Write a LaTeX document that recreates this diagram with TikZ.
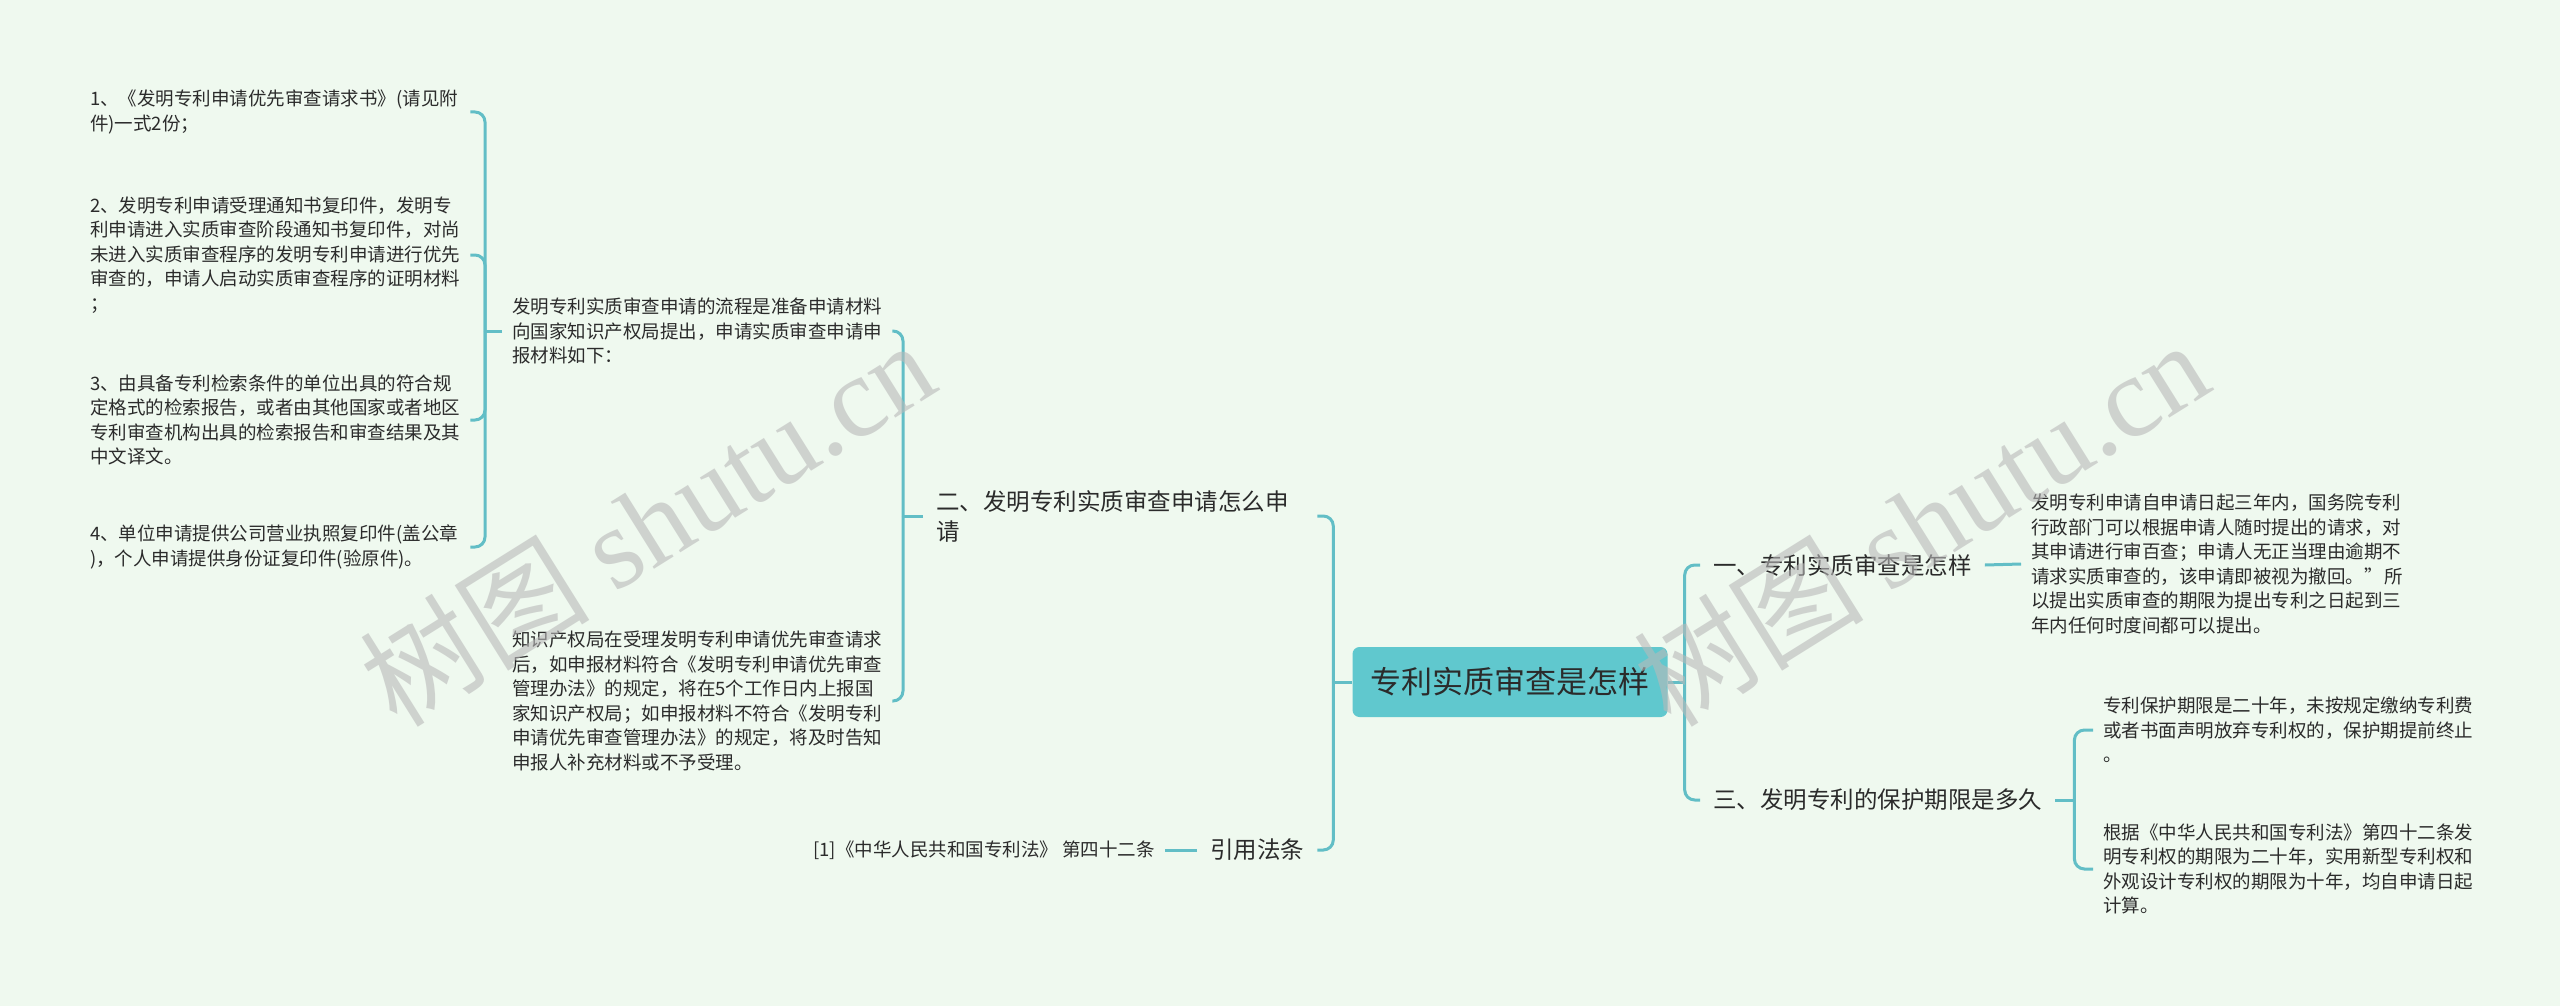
\documentclass[tikz,border=0pt]{standalone}
\usepackage{fontspec}
\setmainfont{Noto Sans CJK SC}
\newfontfamily\wmfont{Liberation Serif}
\usepackage{xcolor}
\definecolor{bgmint}{HTML}{EFF9EF}
\definecolor{linkteal}{HTML}{62BEC6}
\definecolor{rootfill}{HTML}{60C8CE}
\definecolor{txtgray}{HTML}{2B2B2B}

\begin{document}
\begin{tikzpicture}[x=1pt,y=-1pt,
    link/.style={draw=linkteal,line width=3pt,rounded corners=10pt},
    root/.style={fill=rootfill,rounded corners=7pt,minimum width=315pt,minimum height=70pt,
      font=\fontsize{31}{36}\selectfont,text=txtgray},
    topic/.style={anchor=west,inner xsep=13pt,align=left,font=\fontsize{23.5}{30}\selectfont,text=txtgray},
    leaf/.style={anchor=west,inner xsep=10pt,align=left,font=\fontsize{18.5}{24.5}\selectfont,text=txtgray},
    leafw/.style={leaf,text width=370pt},
    wm/.style={text=gray!55,opacity=0.6,font=\fontsize{115}{120}\selectfont,rotate=32}]
  \fill[bgmint] (0,0) rectangle (2560,1006);
  \useasboundingbox (0,0) rectangle (2560,1006);

  \node[root] (root) at (1510,682) {专利实质审查是怎样};

  % left half
  \node[topic,text width=368pt] (er) at (923,516) {二、发明专利实质审查申请怎么申\\请};
  \node[topic] (yy) at (1197,850) {引用法条};
  \node[leaf,anchor=east] (ref) at (1165,850) {[1]《中华人民共和国专利法》 第四十二条};
  \node[leafw] (flow) at (502,331) {发明专利实质审查申请的流程是准备申请材料\\向国家知识产权局提出，申请实质审查申请申\\报材料如下：};
  \node[leafw] (accept) at (502,701) {知识产权局在受理发明专利申请优先审查请求\\后，如申报材料符合《发明专利申请优先审查\\管理办法》的规定，将在5个工作日内上报国\\家知识产权局；如申报材料不符合《发明专利\\申请优先审查管理办法》的规定，将及时告知\\申报人补充材料或不予受理。};
  \node[leafw] (m1) at (80,112) {1、《发明专利申请优先审查请求书》(请见附\\件)一式2份；};
  \node[leafw] (m2) at (80,255) {2、发明专利申请受理通知书复印件，发明专\\利申请进入实质审查阶段通知书复印件，对尚\\未进入实质审查程序的发明专利申请进行优先\\审查的，申请人启动实质审查程序的证明材料\\；};
  \node[leafw] (m3) at (80,420) {3、由具备专利检索条件的单位出具的符合规\\定格式的检索报告，或者由其他国家或者地区\\专利审查机构出具的检索报告和审查结果及其\\中文译文。};
  \node[leafw] (m4) at (80,547) {4、单位申请提供公司营业执照复印件(盖公章\\)，个人申请提供身份证复印件(验原件)。};

  % right half
  \node[topic] (yi) at (1700,565) {一、专利实质审查是怎样};
  \node[leafw] (rule) at (2021,564) {发明专利申请自申请日起三年内，国务院专利\\行政部门可以根据申请人随时提出的请求，对\\其申请进行审百查；申请人无正当理由逾期不\\\mbox{请求实质审查的，该申请即被视为撤回。”\hspace{2pt}所}\\以提出实质审查的期限为提出专利之日起到三\\年内任何时度间都可以提出。};
  \node[topic] (san) at (1700,800) {三、发明专利的保护期限是多久};
  \node[leafw] (term) at (2093,730) {专利保护期限是二十年，未按规定缴纳专利费\\或者书面声明放弃专利权的，保护期提前终止\\。};
  \node[leafw] (basis) at (2093,869) {根据《中华人民共和国专利法》第四十二条发\\明专利权的期限为二十年，实用新型专利权和\\外观设计专利权的期限为十年，均自申请日起\\计算。};

  \draw[link] (root.west) -- ++(-19,0) coordinate (lbus);
  \draw[link] (er.east) -| (lbus);
  \draw[link] (yy.east) -| (lbus);
  \draw[link] (yy.west) -- (ref.east);
  \draw[link] (er.west) -- ++(-20,0) coordinate (ebus);
  \draw[link] (flow.east) -| (ebus);
  \draw[link] (accept.east) -| (ebus);
  \draw[link] (flow.west) -- ++(-17,0) coordinate (fbus);
  \foreach \m in {m1,m2,m3,m4}
    \draw[link] (\m.east) -| (fbus);

  \draw[link] (root.east) -- ++(17,0) coordinate (rbus);
  \draw[link] (yi.west) -| (rbus);
  \draw[link] (san.west) -| (rbus);
  \draw[link] (yi.east) -- (rule.west);
  \draw[link] (san.east) -- ++(19,0) coordinate (sbus);
  \draw[link] (term.west) -| (sbus);
  \draw[link] (basis.west) -| (sbus);

  \node[wm] (wmleft) at (647,522) {树图 {\wmfont shutu.cn}};
  \node[wm] (wmright) at (1921,522) {树图 {\wmfont shutu.cn}};
\end{tikzpicture}
\end{document}
